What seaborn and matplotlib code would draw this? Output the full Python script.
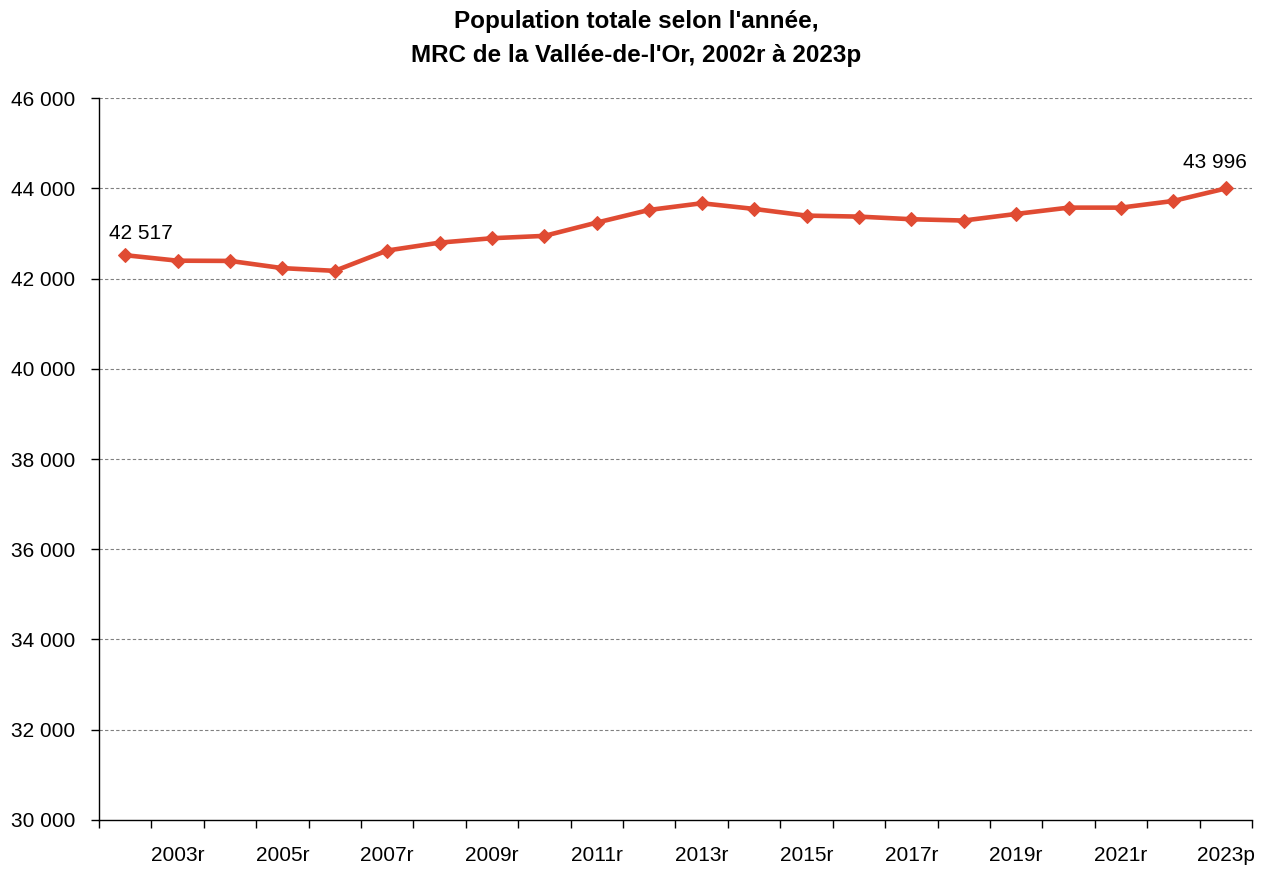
import matplotlib
matplotlib.use("Agg")
import matplotlib.pyplot as plt
import seaborn as sns
import numpy as np
import pandas as pd
from matplotlib.ticker import FuncFormatter, FixedLocator

years = ["2002r", "2003r", "2004r", "2005r", "2006r", "2007r", "2008r", "2009r",
         "2010r", "2011r", "2012r", "2013r", "2014r", "2015r", "2016r", "2017r",
         "2018r", "2019r", "2020r", "2021r", "2022r", "2023p"]
population = [42517, 42395, 42390, 42230, 42170, 42620, 42795, 42893,
              42945, 43240, 43520, 43668, 43542, 43394, 43372, 43314,
              43285, 43431, 43571, 43571, 43719, 43996]
yticks = [30000, 32000, 34000, 36000, 38000, 40000, 42000, 44000, 46000]
title = "Population totale selon l'année,\nMRC de la Vallée-de-l'Or, 2002r à 2023p"

sns.set_theme(style="white")
plt.rcParams['font.family'] = ['Liberation Sans', 'DejaVu Sans']
plt.rcParams['text.color'] = 'black'
plt.rcParams['xtick.color'] = 'black'
plt.rcParams['ytick.color'] = 'black'

df = pd.DataFrame({"pos": np.arange(len(years)), "year": years, "pop": population})

fig = plt.figure(figsize=(12.72, 8.69), dpi=100)
ax = fig.add_axes([0.0778, 0.0564, 0.9065, 0.8308])

color = "#E04B33"
sns.lineplot(data=df, x="pos", y="pop", ax=ax, color=color, linewidth=3.3,
             marker="D", markersize=7, markeredgecolor=color, markerfacecolor=color)

ax.set_xlim(-0.5, len(years) - 0.5)
ax.set_ylim(yticks[0], yticks[-1])
ax.set_yticks(yticks)
ax.yaxis.set_major_formatter(FuncFormatter(lambda v, p: f"{int(v):,}".replace(",", " ")))

for yv in yticks[1:]:
    ax.axhline(yv, color="#808080", linestyle=(0, (3, 2)), linewidth=0.8, zorder=0)

ax.set_xticks(df["pos"])
ax.set_xticklabels([y if i % 2 == 1 else "" for i, y in enumerate(years)])
ax.xaxis.set_minor_locator(FixedLocator(np.arange(len(years) + 1) - 0.5))
ax.tick_params(axis="x", which="major", length=0, pad=19, labelsize=15, labelcolor="black")
ax.tick_params(axis="x", which="minor", length=6, width=1, color="black", direction="out", bottom=True)
ax.tick_params(axis="y", which="major", length=6, width=1, color="black", direction="out",
               left=True, labelsize=15, pad=11, labelcolor="black")

for s in ["top", "right"]:
    ax.spines[s].set_visible(False)
for s in ["left", "bottom"]:
    ax.spines[s].set_color("black")
    ax.spines[s].set_linewidth(1)

ax.set_xlabel("")
ax.set_ylabel("")

def fmt(v):
    return f"{v:,}".replace(",", " ")

ax.annotate(fmt(population[0]), (df["pos"].iloc[0], population[0]), xytext=(-12, 9),
            textcoords="offset points", ha="left", va="bottom", fontsize=15, color="black")
ax.annotate(fmt(population[-1]), (df["pos"].iloc[-1], population[-1]), xytext=(-8, 12),
            textcoords="offset points", ha="center", va="bottom", fontsize=15, color="black")

fig.suptitle(title, fontsize=17.5, fontweight="bold", y=0.988, linespacing=1.6, color="black")

fig.savefig("out.png", dpi=100)
